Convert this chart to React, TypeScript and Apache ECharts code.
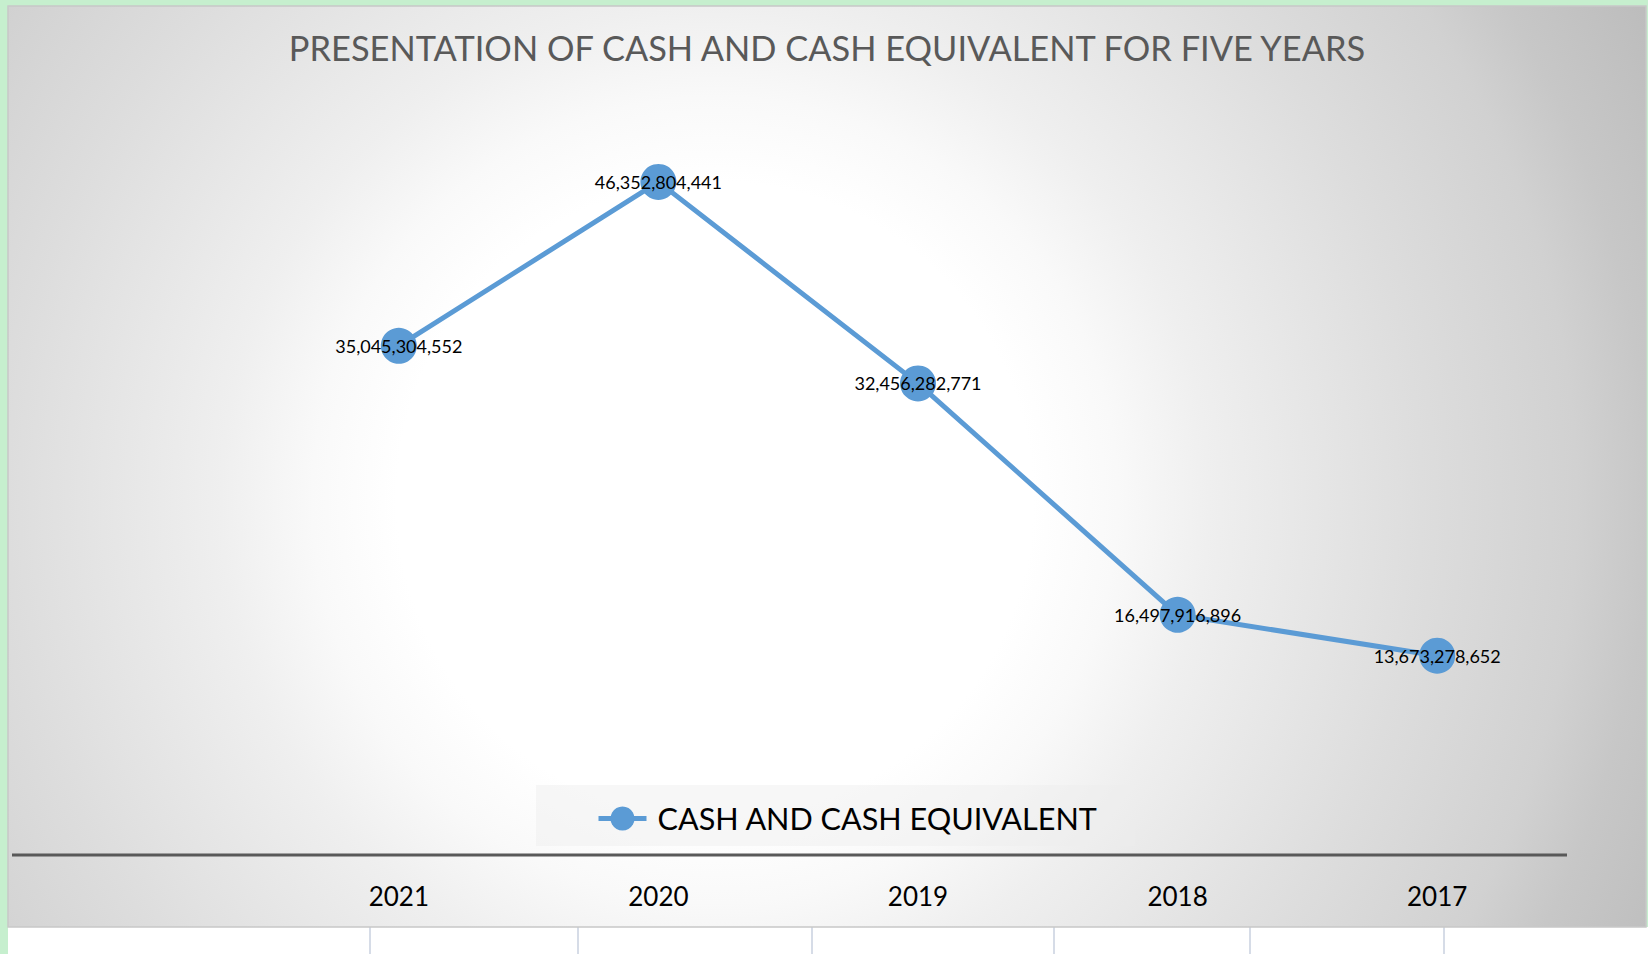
import React, { useEffect, useRef } from "react";
import * as echarts from "echarts";

const title = "PRESENTATION OF CASH AND CASH EQUIVALENT FOR FIVE YEARS";
const seriesName = "CASH AND CASH EQUIVALENT";
const years = ["2021", "2020", "2019", "2018", "2017"];
const cashValues = [35045304552, 46352804441, 32456282771, 16497916896, 13673278652];

const W = 1648;
const H = 954;
const FONT = "Lato, 'Open Sans', sans-serif";

export default function App() {
  const ref = useRef<HTMLDivElement>(null);
  useEffect(() => {
    if (!ref.current) return;
    const chart = echarts.init(ref.current, null, { renderer: "svg", width: W, height: H });
    const boxX = 8, boxY = 6, boxW = 1638, boxH = 921;
    const sheetLines = [370, 578, 812, 1054, 1250, 1444];
    chart.setOption({
      animation: false,
      backgroundColor: "#ffffff",
      title: {
        text: title,
        left: 822,
        top: 42,
        textAlign: "center",
        textVerticalAlign: "middle",
        textStyle: { fontFamily: FONT, fontSize: 34.4, fontWeight: "normal", color: "#595959" },
      },
      legend: {
        left: 596,
        top: 818 - 15,
        padding: 0,
        itemWidth: 48,
        itemHeight: 30,
        data: [seriesName],
        lineStyle: { width: 5 },
        textStyle: { fontFamily: FONT, fontSize: 30.6, color: "#000000", padding: [0, 0, 0, 6] },
      },
      grid: { left: 269, right: 81, top: 129, bottom: 100, containLabel: false },
      xAxis: {
        type: "category",
        data: years,
        boundaryGap: true,
        axisLine: { show: false },
        axisTick: { show: false },
        axisLabel: { fontFamily: FONT, fontSize: 26, color: "#000000", margin: 29 },
        splitLine: { show: false },
      },
      yAxis: {
        type: "value",
        min: 0,
        max: 50000000000,
        show: false,
      },
      graphic: [
        { type: "rect", z: -20, silent: true, shape: { x: 0, y: 0, width: W, height: H }, style: { fill: "#c6efce" } },
        { type: "rect", z: -19, silent: true, shape: { x: boxX, y: H - 27, width: W - boxX, height: 27 }, style: { fill: "#ffffff" } },
        ...sheetLines.map((x) => ({
          type: "line",
          z: -18,
          silent: true,
          shape: { x1: x, y1: boxY + boxH, x2: x, y2: H },
          style: { stroke: "#c9d1df", lineWidth: 1.5 },
        })),
        {
          type: "rect",
          z: -17,
          silent: true,
          shape: { x: boxX, y: boxY, width: boxW, height: boxH },
          style: {
            stroke: "#c8c8c8",
            lineWidth: 1.5,
            fill: {
              type: "radial",
              global: true,
              x: 715,
              y: 500,
              r: 1060,
              colorStops: [
                { offset: 0, color: "#ffffff" },
                { offset: 0.3, color: "#ffffff" },
                { offset: 0.38, color: "#f9f9f9" },
                { offset: 0.466, color: "#efefef" },
                { offset: 0.667, color: "#dddddd" },
                { offset: 0.813, color: "#d1d1d1" },
                { offset: 0.88, color: "#c7c7c7" },
                { offset: 1, color: "#bcbcbc" },
              ],
            },
          },
        },
        {
          type: "rect",
          z: -16,
          silent: true,
          shape: { x: 536, y: 785, width: 599, height: 61 },
          style: { fill: "rgba(238,238,238,0.45)" },
        },
        {
          type: "line",
          z: -15,
          silent: true,
          shape: { x1: 12, y1: 855, x2: 1567, y2: 855 },
          style: { stroke: "#595959", lineWidth: 3 },
        },
      ],
      series: [
        {
          name: seriesName,
          type: "line",
          data: cashValues,
          symbol: "circle",
          symbolSize: 36,
          lineStyle: { color: "#5b9bd5", width: 5 },
          itemStyle: { color: "#5b9bd5" },
          label: {
            show: true,
            position: "inside",
            fontFamily: FONT,
            fontSize: 18,
            color: "#000000",
            formatter: (p: any) => Number(p.value).toLocaleString("en-US"),
          },
        },
      ],
    });
    return () => chart.dispose();
  }, []);
  return <div ref={ref} style={{ position: "fixed", left: 0, top: 0, width: W, height: H }} />;
}
